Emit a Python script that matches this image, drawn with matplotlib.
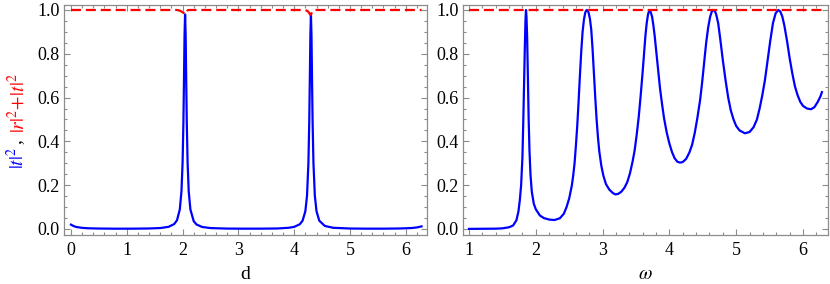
import matplotlib
matplotlib.use('Agg')
import matplotlib.pyplot as plt
from matplotlib.ticker import MultipleLocator, FormatStrFormatter

plt.rcParams['font.family'] = ['Liberation Serif', 'DejaVu Serif']
plt.rcParams['mathtext.fontset'] = 'stix'

# ---- left panel: |t|^2 versus d ----
d_vals = [0.0, 0.05, 0.1, 0.2, 0.3, 0.5, 0.8, 1.1, 1.4, 1.6, 1.75, 1.85, 1.9, 1.95,
          1.98, 2.0, 2.015, 2.025, 2.035, 2.045, 2.055, 2.065, 2.075, 2.09, 2.11,
          2.14, 2.2, 2.25, 2.35, 2.5, 2.8, 3.1, 3.4, 3.7, 3.9, 4.0, 4.1, 4.15, 4.2,
          4.23, 4.255, 4.27, 4.28, 4.29, 4.30, 4.31, 4.32, 4.33, 4.345, 4.37, 4.4,
          4.45, 4.55, 4.7, 5.0, 5.3, 5.6, 5.9, 6.1, 6.2, 6.283]
t2_d = [0.020, 0.013, 0.009, 0.0052, 0.0034, 0.0021, 0.0014, 0.0015, 0.0024, 0.0044,
        0.010, 0.0226, 0.040, 0.089, 0.172, 0.302, 0.49, 0.678, 0.882, 0.98, 0.882,
        0.678, 0.49, 0.302, 0.172, 0.089, 0.0354, 0.0205, 0.0093, 0.0042, 0.0019,
        0.0015, 0.0016, 0.0024, 0.0055, 0.0097, 0.0216, 0.0377, 0.081, 0.152, 0.302,
        0.49, 0.678, 0.882, 0.98, 0.882, 0.678, 0.49, 0.302, 0.152, 0.081, 0.0377,
        0.0139, 0.0055, 0.0022, 0.0015, 0.0015, 0.0024, 0.0043, 0.0071, 0.012]
d_red = [0.0, 1.9, 1.95, 2.0, 2.03, 2.045, 2.06, 2.08, 2.1, 4.2, 4.25, 4.285, 4.30,
         4.31, 4.33, 4.36, 6.283]
rt_d = [1.0, 1.0, 0.997, 0.99, 0.984, 0.98, 0.985, 0.995, 1.0, 1.0, 0.993, 0.98,
        0.978, 0.985, 0.997, 1.0, 1.0]

# ---- right panel: |t|^2 versus omega ----
w_vals = [1.0, 1.2, 1.4, 1.5, 1.6, 1.66, 1.71, 1.74, 1.76, 1.78, 1.80, 1.813, 1.825,
          1.835, 1.845, 1.853, 1.86, 1.87, 1.88, 1.893, 1.905, 1.92, 1.94, 1.97, 2.0,
          2.06, 2.12, 2.2, 2.28, 2.36, 2.42, 2.46, 2.50, 2.54, 2.56, 2.58, 2.60, 2.62,
          2.64, 2.66, 2.68, 2.70, 2.72, 2.74, 2.755, 2.765, 2.775, 2.79, 2.81, 2.83,
          2.85, 2.87, 2.89, 2.91, 2.93, 2.95, 2.98, 3.01, 3.05, 3.10, 3.15, 3.19,
          3.23, 3.28, 3.33, 3.37, 3.41, 3.45, 3.48, 3.51, 3.54, 3.57, 3.60, 3.62,
          3.64, 3.66, 3.68, 3.70, 3.72, 3.74, 3.76, 3.78, 3.80, 3.83, 3.86, 3.89,
          3.92, 3.96, 4.00, 4.04, 4.08, 4.12, 4.16, 4.20, 4.25, 4.30, 4.34, 4.38,
          4.42, 4.46, 4.49, 4.52, 4.55, 4.58, 4.61, 4.635, 4.657, 4.68, 4.70, 4.73,
          4.76, 4.80, 4.84, 4.88, 4.92, 4.96, 5.00, 5.05, 5.13, 5.20, 5.26, 5.31,
          5.35, 5.39, 5.43, 5.47, 5.51, 5.55, 5.59, 5.63, 5.66, 5.69, 5.72, 5.76,
          5.80, 5.84, 5.88, 5.92, 5.96, 6.00, 6.06, 6.12, 6.17, 6.22, 6.26, 6.283]
t2_w = [0.0005, 0.0008, 0.0015, 0.003, 0.008, 0.016, 0.04, 0.08, 0.13, 0.2, 0.33,
        0.5, 0.68, 0.82, 0.95, 1.0, 0.97, 0.88, 0.72, 0.5, 0.36, 0.25, 0.17, 0.115,
        0.09, 0.062, 0.05, 0.043, 0.041, 0.049, 0.07, 0.10, 0.14, 0.20, 0.245, 0.30,
        0.38, 0.47, 0.58, 0.70, 0.81, 0.90, 0.955, 0.988, 0.998, 1.0, 0.998, 0.988,
        0.96, 0.91, 0.82, 0.71, 0.60, 0.50, 0.42, 0.355, 0.29, 0.245, 0.205, 0.180,
        0.165, 0.158, 0.160, 0.170, 0.19, 0.215, 0.255, 0.31, 0.36, 0.43, 0.51,
        0.61, 0.72, 0.80, 0.88, 0.94, 0.98, 1.0, 0.99, 0.97, 0.93, 0.88, 0.82, 0.73,
        0.64, 0.57, 0.505, 0.44, 0.39, 0.35, 0.322, 0.307, 0.303, 0.306, 0.32, 0.35,
        0.385, 0.44, 0.51, 0.59, 0.67, 0.76, 0.85, 0.92, 0.97, 0.993, 1.0, 0.995,
        0.98, 0.94, 0.87, 0.77, 0.68, 0.60, 0.54, 0.50, 0.47, 0.45, 0.437, 0.443,
        0.465, 0.50, 0.55, 0.61, 0.68, 0.77, 0.86, 0.94, 0.985, 1.0, 0.993, 0.97,
        0.93, 0.86, 0.78, 0.71, 0.65, 0.61, 0.58, 0.562, 0.55, 0.547, 0.556, 0.58,
        0.605, 0.625]
w_red = [1.0, 6.283]
rt_w = [1.0, 1.0]

x_ticks_d = [0, 1, 2, 3, 4, 5, 6]
x_ticks_w = [1, 2, 3, 4, 5, 6]
y_ticks = [0.0, 0.2, 0.4, 0.6, 0.8, 1.0]

W, H = 830, 284
fig = plt.figure(figsize=(W / 100, H / 100), dpi=100)
ax1 = fig.add_axes([64 / W, 1 - 235 / H, (427 - 64) / W, (235 - 5) / H])
ax2 = fig.add_axes([463 / W, 1 - 235 / H, (828 - 463) / W, (235 - 5) / H])

frame_col = '#8c8c8c'
for ax, xs, ys, xr, yr, xt in [(ax1, d_vals, t2_d, d_red, rt_d, x_ticks_d),
                               (ax2, w_vals, t2_w, w_red, rt_w, x_ticks_w)]:
    ax.plot(xs, ys, color='#0000ff', lw=1.6, solid_joinstyle='round')
    ax.plot(xr, yr, color='#ff0000', lw=1.6, dashes=(4.5, 2.2))
    ax.set_xticks(xt)
    ax.set_yticks(y_ticks)
    ax.yaxis.set_major_formatter(FormatStrFormatter('%.1f'))
    ax.xaxis.set_minor_locator(MultipleLocator(0.2))
    ax.yaxis.set_minor_locator(MultipleLocator(0.05))
    ax.tick_params(which='both', direction='in', top=True, right=True,
                   color=frame_col, width=0.8, labelsize=13, pad=3)
    ax.tick_params(axis='x', which='both', pad=5)
    ax.tick_params(which='major', length=4)
    ax.tick_params(which='minor', length=2)
    for s in ax.spines.values():
        s.set_color(frame_col)
        s.set_linewidth(0.9)
    ax.set_ylim(-0.0274, 1.0228)

ax1.set_xlim(-0.125, 6.38)
ax2.set_xlim(0.910, 6.374)
ax1.set_xlabel('d', fontsize=14, labelpad=5)
ax2.set_xlabel(r'$\omega$', fontsize=14, labelpad=5)

# multi-coloured y label
fig.canvas.draw()
r = fig.canvas.get_renderer()
xr_px = 28 / W
t1 = fig.text(xr_px, 1 - 169 / H, r'$|t|^2$', color='#0000ff', rotation=90,
              ha='right', va='bottom', fontsize=14)
bb = t1.get_window_extent(r)
t2 = fig.text(xr_px - 4 / W, bb.y1 / H + 3 / H, ',', color='black', rotation=90,
              ha='right', va='bottom', fontsize=14)
bb2 = t2.get_window_extent(r)
t3 = fig.text(xr_px, bb2.y1 / H + 6 / H, r'$|r|^2\!+\!|t|^2$', color='#ff0000',
              rotation=90, ha='right', va='bottom', fontsize=14)

fig.savefig('out.png', dpi=100)
